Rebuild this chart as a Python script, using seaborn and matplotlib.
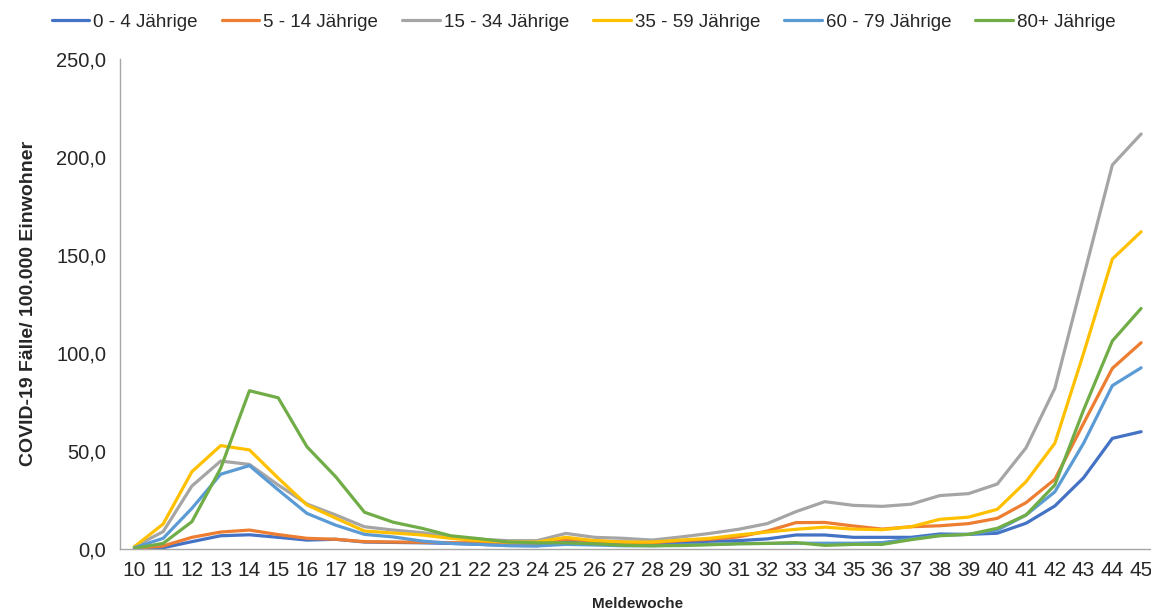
import pandas as pd
import matplotlib
matplotlib.use("Agg")
import matplotlib.pyplot as plt
from matplotlib.ticker import FixedLocator, FuncFormatter
import seaborn as sns

weeks = list(range(10, 46))
groups = ["0 - 4 Jährige", "5 - 14 Jährige", "15 - 34 Jährige",
          "35 - 59 Jährige", "60 - 79 Jährige", "80+ Jährige"]
colors = ["#4472C4", "#ED7D31", "#A5A5A5", "#FFC000", "#5B9BD5", "#70AD47"]

age_0_4 = [0.2, 0.5, 3.6, 6.6, 7.1, 5.8, 4.4, 4.8, 3.4, 3.2, 3.0, 2.7, 2.2, 1.7, 1.5, 3.3, 2.7, 2.2,
           2.4, 3.0, 3.8, 4.1, 5.0, 7.0, 7.0, 5.8, 5.8, 5.8, 7.5, 7.3, 7.9, 13.0, 21.8, 36.2, 56.3, 59.7]
age_5_14 = [0.2, 1.4, 5.8, 8.5, 9.5, 7.2, 5.3, 4.8, 3.6, 3.4, 3.3, 3.1, 3.0, 2.7, 2.7, 4.8, 4.0, 3.4,
            3.0, 4.1, 4.8, 6.0, 9.0, 13.3, 13.4, 11.6, 10.0, 11.2, 11.7, 12.8, 15.5, 23.5, 35.4, 64.0, 92.0, 105.1]
age_15_34 = [1.0, 8.7, 32.0, 44.7, 43.0, 32.5, 22.8, 17.2, 11.2, 9.5, 8.2, 6.0, 4.8, 4.1, 4.1, 7.8, 5.8, 5.3,
             4.4, 6.0, 7.8, 9.9, 12.8, 18.9, 24.0, 22.1, 21.6, 22.7, 27.1, 28.1, 33.0, 51.5, 81.8, 138.8, 195.8, 211.6]
age_35_59 = [1.0, 12.6, 39.3, 52.6, 50.4, 36.0, 22.3, 15.6, 9.0, 8.0, 7.0, 5.3, 4.1, 3.4, 3.4, 5.8, 4.1, 3.4,
             3.4, 4.4, 5.3, 7.0, 8.5, 9.9, 11.0, 10.0, 9.7, 11.2, 15.0, 16.1, 20.1, 34.2, 53.8, 99.7, 147.8, 161.7]
age_60_79 = [0.5, 5.3, 20.6, 38.0, 42.4, 30.0, 18.0, 12.0, 7.3, 6.0, 3.9, 2.7, 2.2, 1.5, 1.4, 2.2, 1.9, 1.5,
             1.5, 1.9, 2.2, 2.6, 2.7, 2.8, 2.8, 2.8, 3.1, 5.0, 6.8, 7.3, 9.5, 17.2, 29.0, 53.8, 83.2, 92.3]
age_80 = [0.2, 2.7, 13.8, 41.0, 80.6, 77.0, 52.0, 36.7, 18.6, 13.5, 10.4, 6.6, 5.1, 3.4, 3.0, 3.0, 2.5, 1.7,
          1.5, 1.6, 2.0, 2.5, 2.7, 3.1, 1.7, 2.2, 2.2, 4.6, 6.6, 7.3, 10.4, 17.2, 32.5, 70.8, 106.0, 122.6]

series = [age_0_4, age_5_14, age_15_34, age_35_59, age_60_79, age_80]
df = pd.concat([pd.DataFrame({"Woche": weeks, "Wert": vals, "Gruppe": g})
                for g, vals in zip(groups, series)], ignore_index=True)

sns.set_style("white")
plt.rcParams['font.family'] = ['Liberation Sans', 'DejaVu Sans']

fig = plt.figure(figsize=(11.51, 6.12), dpi=100)
ax = fig.add_axes([120 / 1151, 63.3 / 612, 1035.5 / 1151, 490 / 612])

sns.lineplot(data=df, x="Woche", y="Wert", hue="Gruppe", hue_order=groups,
             palette=dict(zip(groups, colors)), linewidth=2.3, ax=ax, legend=True)

ax.set_xlim(9.5, 45.5)
ax.set_ylim(0, 250)
ax.set_xticks(weeks)
ax.set_xticklabels([str(w) for w in weeks], fontsize=15)
ax.xaxis.set_minor_locator(FixedLocator([w - 0.5 for w in weeks] + [45.5]))
ax.tick_params(axis="x", which="major", length=0, pad=9)
ax.tick_params(axis="x", which="minor", length=6, color="#A6A6A6", width=1, direction="out")
ax.set_yticks([0, 50, 100, 150, 200, 250])
ax.yaxis.set_major_formatter(FuncFormatter(lambda v, p: f"{v:.1f}".replace(".", ",")))
ax.tick_params(axis="y", length=6, color="#A6A6A6", width=1, direction="out", labelsize=14.5, pad=4)

for side in ["top", "right"]:
    ax.spines[side].set_visible(False)
for side in ["left", "bottom"]:
    ax.spines[side].set_color("#A6A6A6")
    ax.spines[side].set_linewidth(1)

ax.set_xlabel("Meldewoche", fontsize=11, fontweight="bold", labelpad=12)
ax.set_ylabel("COVID-19 Fälle/ 100.000 Einwohner", fontsize=14, fontweight="bold", labelpad=14)

handles, labels = ax.get_legend_handles_labels()
ax.legend_.remove()
fig.legend(handles, labels, loc="upper center", bbox_to_anchor=(0.507, 1.005), ncol=6,
           frameon=False, fontsize=13.5, handlelength=2.0, handletextpad=0.2, columnspacing=1.3)

fig.savefig("out.png", dpi=100)
